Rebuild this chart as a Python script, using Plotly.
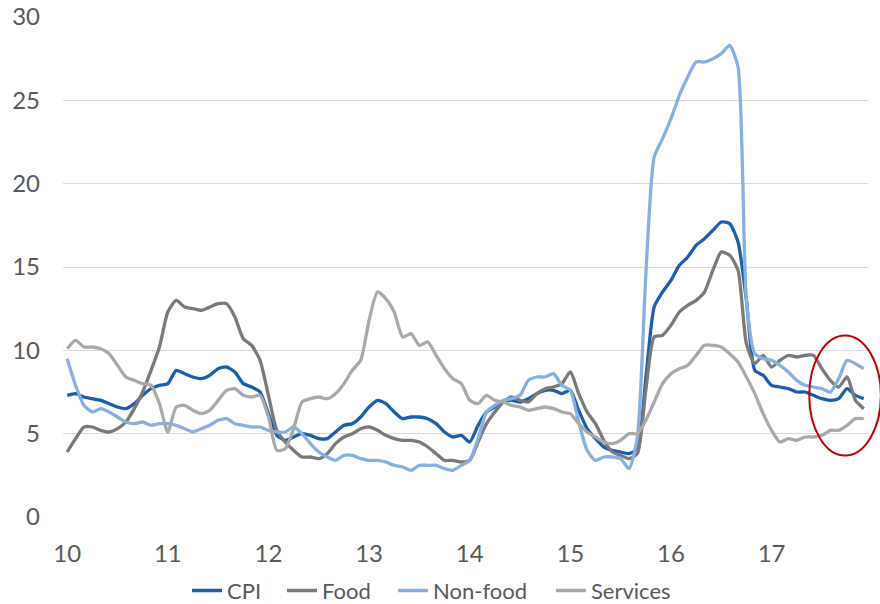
import plotly.graph_objects as go

years = ["10", "11", "12", "13", "14", "15", "16", "17"]
n_months = 96
x_vals = [10 + i / 12 for i in range(n_months)]

cpi = [7.3, 7.4, 7.2, 7.1, 7.0, 6.8, 6.6, 6.5, 6.8, 7.3, 7.7, 7.9,
       8.0, 8.8, 8.6, 8.4, 8.3, 8.5, 8.9, 9.0, 8.7, 8.0, 7.8, 7.5,
       6.2, 4.9, 4.6, 4.8, 5.0, 4.9, 4.7, 4.7, 5.1, 5.5, 5.6, 6.0,
       6.6, 7.0, 6.8, 6.3, 5.9, 6.0, 6.0, 5.9, 5.6, 5.1, 4.8, 4.9,
       4.5, 5.5, 6.3, 6.6, 6.9, 7.0, 6.9, 7.1, 7.4, 7.6, 7.6, 7.4,
       7.6, 6.4, 5.3, 4.7, 4.2, 4.0, 3.9, 3.8, 4.1, 8.3, 12.6, 13.5,
       14.2, 15.1, 15.6, 16.3, 16.7, 17.2, 17.7, 17.6, 16.5, 13.0, 8.8, 8.5,
       7.9, 7.8, 7.7, 7.5, 7.5, 7.3, 7.1, 7.0, 7.1, 7.7, 7.3, 7.1]

food = [3.9, 4.7, 5.4, 5.4, 5.2, 5.1, 5.3, 5.7, 6.5, 7.5, 8.8, 10.2,
        12.3, 13.0, 12.6, 12.5, 12.4, 12.6, 12.8, 12.8, 12.0, 10.7, 10.3, 9.4,
        7.3, 5.2, 4.5, 4.0, 3.6, 3.6, 3.5, 3.8, 4.4, 4.8, 5.0, 5.3,
        5.4, 5.2, 4.9, 4.7, 4.6, 4.6, 4.5, 4.2, 3.8, 3.4, 3.4, 3.3,
        3.4, 4.5, 5.6, 6.3, 6.9, 7.2, 7.0, 6.9, 7.4, 7.7, 7.8, 8.0,
        8.7, 7.4, 6.3, 5.6, 4.6, 3.9, 3.7, 3.5, 3.8, 7.6, 10.8, 10.9,
        11.5, 12.3, 12.7, 13.0, 13.5, 14.8, 15.9, 15.7, 14.8, 10.4, 9.2, 9.7,
        9.0, 9.4, 9.7, 9.6, 9.7, 9.7, 8.9, 8.2, 7.8, 8.4, 7.0, 6.5]

non_food = [9.5, 7.9, 6.7, 6.3, 6.5, 6.3, 6.0, 5.7, 5.6, 5.7, 5.5, 5.6,
            5.6, 5.5, 5.3, 5.1, 5.3, 5.5, 5.8, 5.9, 5.6, 5.5, 5.4, 5.4,
            5.2, 5.1, 5.1, 5.4, 5.0, 4.4, 3.9, 3.6, 3.4, 3.7, 3.7, 3.5,
            3.4, 3.4, 3.3, 3.1, 3.0, 2.8, 3.1, 3.1, 3.1, 2.9, 2.8, 3.1,
            3.4, 4.7, 6.3, 6.7, 7.0, 7.1, 7.3, 8.2, 8.4, 8.4, 8.6, 7.9,
            7.6, 5.7, 4.0, 3.4, 3.6, 3.6, 3.5, 2.9, 4.8, 14.5, 21.6, 22.7,
            23.9, 25.3, 26.4, 27.3, 27.3, 27.5, 27.8, 28.3, 27.0, 13.0, 9.8, 9.5,
            9.4, 9.1, 8.7, 8.2, 7.9, 7.8, 7.7, 7.5, 8.3, 9.4, 9.2, 8.9]

services = [10.1, 10.6, 10.2, 10.2, 10.1, 9.8, 9.1, 8.4, 8.2, 8.0, 7.9, 6.8,
            5.1, 6.6, 6.7, 6.4, 6.2, 6.4, 7.0, 7.6, 7.7, 7.3, 7.2, 7.3,
            6.0, 4.0, 4.1, 5.3, 6.9, 7.1, 7.2, 7.1, 7.4, 8.0, 8.8, 9.4,
            11.8, 13.5, 13.1, 12.3, 10.8, 11.0, 10.3, 10.5, 9.7, 8.9, 8.3, 8.0,
            7.0, 6.8, 7.3, 7.0, 6.9, 6.7, 6.6, 6.4, 6.5, 6.6, 6.5, 6.3,
            6.2, 5.6, 5.1, 4.8, 4.5, 4.4, 4.6, 5.0, 5.0, 5.8, 6.9, 8.0,
            8.6, 8.9, 9.1, 9.7, 10.3, 10.3, 10.2, 9.8, 9.3, 8.4, 7.4, 6.2,
            5.2, 4.5, 4.7, 4.6, 4.8, 4.8, 4.9, 5.2, 5.2, 5.5, 5.9, 5.9]

series = [("CPI", cpi, "#1B5FAA"),
          ("Food", food, "#7A7A7A"),
          ("Non-food", non_food, "#85B0DF"),
          ("Services", services, "#A9A9A9")]

FONT = "Lato, 'Liberation Sans', Arial, sans-serif"
legend_ids = ["legend", "legend2", "legend3", "legend4"]
legend_left_px = [187, 282, 393, 551]

fig = go.Figure()
for (name, vals, color), lid in zip(series, legend_ids):
    fig.add_trace(go.Scatter(
        x=x_vals, y=vals, name=name, mode="lines", legend=lid,
        line=dict(color=color, width=3.3, shape="spline", smoothing=0.6),
    ))

fig.add_shape(type="circle", xref="paper", yref="paper",
              x0=0.927, x1=1.016, y0=0.123, y1=0.363,
              line=dict(color="#C00000", width=2), fillcolor="rgba(0,0,0,0)",
              layer="above")

legend_layout = {}
for lid, px in zip(legend_ids, legend_left_px):
    legend_layout[lid] = dict(
        orientation="h", xref="container", yref="container",
        x=px / 880, xanchor="left", y=0.022, yanchor="middle",
        font=dict(size=22, color="#595959"),
        bgcolor="rgba(0,0,0,0)", itemwidth=30)

fig.update_layout(
    width=880, height=604,
    margin=dict(l=63, r=12, t=17, b=87, autoexpand=False),
    paper_bgcolor="white", plot_bgcolor="white",
    font=dict(family=FONT, size=24, color="#595959"),
    showlegend=True,
    xaxis=dict(range=[10 - 0.5 / 12, 18 - 0.5 / 12],
               tickvals=[10, 11, 12, 13, 14, 15, 16, 17], ticktext=years,
               showgrid=False, zeroline=False, showline=False,
               ticks="", ticklabelstandoff=20,
               tickfont=dict(size=24, color="#595959")),
    yaxis=dict(range=[0, 30], dtick=5, tick0=0,
               showgrid=True, gridcolor="#D9D9D9", gridwidth=1.3,
               zeroline=False, showline=False, ticks="",
               ticklabelstandoff=22,
               tickfont=dict(size=24, color="#595959")),
    **legend_layout,
)

fig.write_html("out.html")
